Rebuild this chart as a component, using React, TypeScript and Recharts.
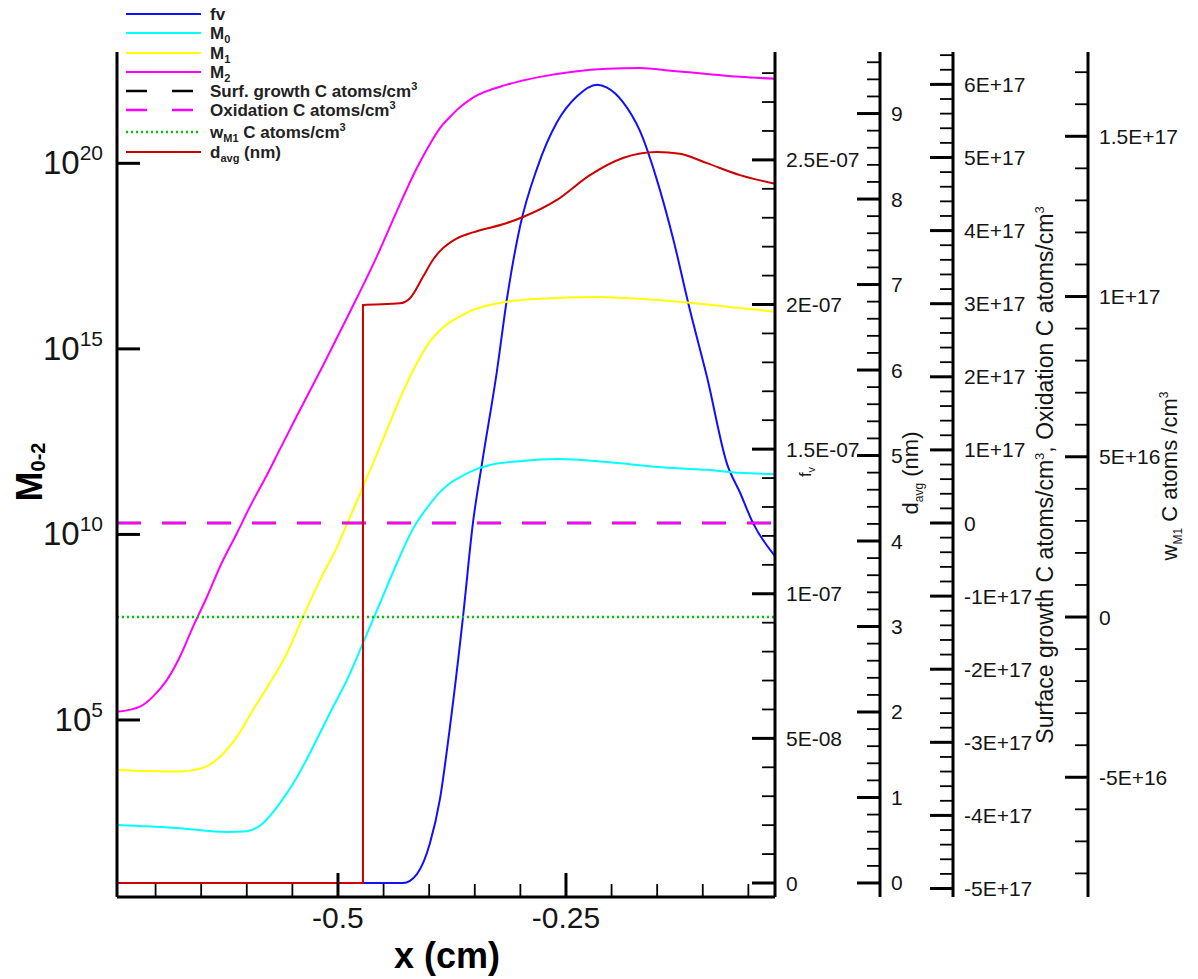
import React from 'react';
import { LineChart, Line, XAxis, YAxis, Legend } from 'recharts';

const FONT = "'Liberation Sans', Arial, Helvetica, sans-serif";
const TXT = '#151515';

// ---------------- data (x in cm) ----------------
const fvX = [-0.7423, -0.4726, -0.4287, -0.4134, -0.3991, -0.3882, -0.3772, -0.3629, -0.352, -0.3421, -0.3257, -0.3147, -0.3004, -0.2818, -0.2599, -0.2379, -0.216, -0.205, -0.1875, -0.1689, -0.1502, -0.1327, -0.114, -0.0954, -0.0735, -0.0592, -0.045, -0.0208];
const fvVal = [0, 0, 0, 3.1e-9, 1.38e-8, 2.9e-8, 5.4e-8, 9.2e-8, 1.245e-7, 1.45e-7, 1.77e-7, 2.02e-7, 2.27e-7, 2.47e-7, 2.63e-7, 2.72e-7, 2.76e-7, 2.75e-7, 2.7e-7, 2.6e-7, 2.43e-7, 2.23e-7, 1.98e-7, 1.75e-7, 1.45e-7, 1.35e-7, 1.245e-7, 1.13e-7];

// moments, given as log10 of the value
const m0X = [-0.7423, -0.6765, -0.6217, -0.5998, -0.5822, -0.5636, -0.545, -0.5274, -0.5088, -0.4901, -0.4726, -0.4539, -0.4353, -0.4178, -0.3991, -0.3882, -0.3772, -0.3695, -0.352, -0.3333, -0.2971, -0.2599, -0.205, -0.1502, -0.0954, -0.0592, -0.0208];
const m0Log10 = [2.17, 2.09, 1.98, 2.0, 2.22, 2.76, 3.46, 4.27, 5.19, 6.08, 7.07, 8.15, 9.23, 10.15, 10.82, 11.14, 11.38, 11.5, 11.72, 11.87, 11.98, 12.03, 11.95, 11.82, 11.74, 11.66, 11.63];

const m1X = [-0.7423, -0.6765, -0.648, -0.6294, -0.6107, -0.5932, -0.5746, -0.5559, -0.5384, -0.5197, -0.5011, -0.4868, -0.4726, -0.4572, -0.443, -0.4287, -0.4134, -0.3991, -0.3882, -0.3772, -0.3629, -0.352, -0.3333, -0.3147, -0.2785, -0.216, -0.1689, -0.114, -0.0592, -0.0208];
const m1Log10 = [3.65, 3.61, 3.71, 4.01, 4.55, 5.27, 6.0, 6.8, 7.78, 8.77, 9.66, 10.47, 11.28, 12.17, 13.02, 13.85, 14.62, 15.2, 15.5, 15.72, 15.92, 16.05, 16.18, 16.27, 16.35, 16.4, 16.35, 16.24, 16.1, 16.0];

const m2X = [-0.7423, -0.7171, -0.7029, -0.6875, -0.6732, -0.659, -0.6436, -0.6294, -0.6107, -0.5965, -0.5779, -0.5636, -0.545, -0.5164, -0.4868, -0.4572, -0.4353, -0.4134, -0.3991, -0.3882, -0.3772, -0.3695, -0.352, -0.3147, -0.2785, -0.2423, -0.205, -0.1689, -0.1327, -0.0954, -0.0592, -0.0208];
const m2Log10 = [5.22, 5.36, 5.63, 6.08, 6.71, 7.51, 8.32, 9.13, 10.04, 10.75, 11.6, 12.3, 13.2, 14.55, 16.0, 17.5, 18.72, 19.88, 20.52, 20.95, 21.25, 21.44, 21.77, 22.12, 22.33, 22.47, 22.55, 22.57, 22.49, 22.41, 22.33, 22.28];

const dX = [-0.7423, -0.4726, -0.4726, -0.432, -0.4211, -0.4068, -0.3958, -0.3882, -0.3695, -0.352, -0.3147, -0.2971, -0.2599, -0.2237, -0.1875, -0.1502, -0.125, -0.0954, -0.0592, -0.0208];
const dVal = [0, 0, 6.76, 6.78, 6.84, 7.09, 7.29, 7.39, 7.54, 7.61, 7.72, 7.79, 7.99, 8.28, 8.48, 8.55, 8.53, 8.42, 8.28, 8.18];

const rateX = [-0.7423, -0.0208];
const surfGrowthVal = [0, 0];
const oxidationVal = [0, 0];
const wM1Val = [0, 0];

// ---------------- ticks ----------------
const xDomain = [-0.7423, -0.0208];
const xMajorTicks = [-0.5, -0.25];
const xTickLabels = ['-0.5', '-0.25'];
const xMinorTicks = [-0.7, -0.65, -0.6, -0.55, -0.45, -0.4, -0.35, -0.3, -0.2, -0.15, -0.1, -0.05];

const mMajorTicks = [1e5, 1e10, 1e15, 1e20];
const mTickExponents = ['5', '10', '15', '20'];
const mDomainLog10 = [0.23, 23.0];

const fvTickLabels = ['0', '5E-08', '1E-07', '1.5E-07', '2E-07', '2.5E-07'];
const dTickLabels = ['0', '1', '2', '3', '4', '5', '6', '7', '8', '9'];
const sgTickLabels = ['-5E+17', '-4E+17', '-3E+17', '-2E+17', '-1E+17', '0', '1E+17', '2E+17', '3E+17', '4E+17', '5E+17', '6E+17'];
const wTickLabels = ['-5E+16', '0', '5E+16', '1E+17', '1.5E+17'];

// ---------------- helpers ----------------
const pts = (xs: number[], ys: number[]) => xs.map((x, i) => ({ x, y: ys[i] }));
const logPts = (xs: number[], ls: number[]) => xs.map((x, i) => ({ x, y: Math.pow(10, ls[i]) }));

type AxisCfg = { step: number; iMin: number; iMax: number; firstLabelI: number; labels: string[] };
const fvCfg: AxisCfg = { step: 1e-8, iMin: 0, iMax: 28, firstLabelI: 0, labels: fvTickLabels };
const dCfg: AxisCfg = { step: 0.2, iMin: 0, iMax: 48, firstLabelI: 0, labels: dTickLabels };
const sgCfg: AxisCfg = { step: 2e16, iMin: -25, iMax: 32, firstLabelI: -25, labels: sgTickLabels };
const wCfg: AxisCfg = { step: 1e16, iMin: -8, iMax: 17, firstLabelI: -5, labels: wTickLabels };

const cfgTicks = (c: AxisCfg) => {
  const out: number[] = [];
  for (let i = c.iMin; i <= c.iMax; i++) out.push(i * c.step);
  return out;
};

const makeRightTick = (c: AxisCfg) => (props: any) => {
  const { x, y, payload } = props;
  const i = Math.round(payload.value / c.step);
  const major = i % 5 === 0;
  const li = Math.round((i - c.firstLabelI) / 5);
  return (
    <g>
      <line x1={x - (major ? 23 : 13)} x2={x} y1={y} y2={y} stroke="#000" strokeWidth={major ? 3 : 1.8} />
      {major && c.labels[li] !== undefined && (
        <text x={x + 11} y={y + 7.5} fontSize={21} fontFamily={FONT} fill={TXT}>{c.labels[li]}</text>
      )}
    </g>
  );
};

const renderXTick = (props: any) => {
  const { x, y, payload } = props;
  const li = xMajorTicks.findIndex((m) => Math.abs(m - payload.value) < 1e-6);
  const major = li >= 0;
  return (
    <g>
      <line x1={x} x2={x} y1={y} y2={y - (major ? 24 : 13)} stroke="#000" strokeWidth={major ? 3 : 1.8} />
      {major && (
        <text x={x} y={y + 31} textAnchor="middle" fontSize={30} fontFamily={FONT} fill={TXT}>{xTickLabels[li]}</text>
      )}
    </g>
  );
};

const renderMTick = (props: any) => {
  const { x, y, payload } = props;
  const li = mMajorTicks.findIndex((m) => Math.abs(Math.log10(m) - Math.log10(payload.value)) < 1e-6);
  return (
    <g>
      <line x1={x} x2={x + 23} y1={y} y2={y} stroke="#000" strokeWidth={3} />
      <text x={x - 14} y={y + 11} textAnchor="end" fontSize={33} fontFamily={FONT} fill={TXT}>
        10<tspan dy={-14} fontSize={21}>{mTickExponents[li]}</tspan>
      </text>
    </g>
  );
};

type Part = [string, 'n' | 'sub' | 'sup'];
const Rich = ({ parts, size, small, subDy, supDy }: { parts: Part[]; size: number; small: number; subDy: number; supDy: number }) => {
  let cur = 0;
  return (
    <>
      {parts.map(([t, k], i) => {
        const target = k === 'sub' ? subDy : k === 'sup' ? -supDy : 0;
        const dy = target - cur;
        cur = target;
        return (
          <tspan key={i} dy={dy} fontSize={k === 'n' ? size : small} style={{ whiteSpace: 'pre' }}>{t}</tspan>
        );
      })}
    </>
  );
};

// ---------------- legend ----------------
const seriesStyles = [
  { color: '#1010ff', dash: undefined as string | undefined, width: 2 },
  { color: '#00ffff', dash: undefined, width: 2 },
  { color: '#ffff00', dash: undefined, width: 2 },
  { color: '#ff00ff', dash: undefined, width: 2 },
  { color: '#000000', dash: '21 25', width: 2.5 },
  { color: '#ff00ff', dash: '21 25', width: 2.5 },
  { color: '#00c800', dash: '2 3', width: 2.5 },
  { color: '#cc0000', dash: undefined, width: 2 },
];
const legendParts: Part[][] = [
  [['fv', 'n']],
  [['M', 'n'], ['0', 'sub']],
  [['M', 'n'], ['1', 'sub']],
  [['M', 'n'], ['2', 'sub']],
  [['Surf. growth C atoms/cm', 'n'], ['3', 'sup']],
  [['Oxidation C atoms/cm', 'n'], ['3', 'sup']],
  [['w', 'n'], ['M1', 'sub'], [' C atoms/cm', 'n'], ['3', 'sup']],
  [['d', 'n'], ['avg', 'sub'], [' (nm)', 'n']],
];
const legendRowY = [14, 33, 53, 72, 91, 110, 132, 152];

const renderLegend = () => (
  <svg width={480} height={175} style={{ display: 'block' }}>
    {legendParts.map((p, i) => {
      const s = seriesStyles[i];
      const y = legendRowY[i];
      return (
        <g key={i}>
          <line x1={126} x2={201} y1={y} y2={y} stroke={s.color} strokeWidth={s.width} strokeDasharray={s.dash} />
          <text x={210} y={y + 6} fontFamily={FONT} fontWeight="bold" fill="#222" fontSize={17}>
            <Rich parts={p} size={17} small={11} subDy={4} supDy={7} />
          </text>
        </g>
      );
    })}
  </svg>
);

// ---------------- titles ----------------
const Titles = () => (
  <svg width={1198} height={979} style={{ position: 'absolute', left: 0, top: 0, pointerEvents: 'none' }}>
    <text transform="translate(42,472) rotate(-90)" textAnchor="middle" fontFamily={FONT} fontWeight="bold" fill="#000">
      <Rich parts={[['M', 'n'], ['0-2', 'sub']]} size={36} small={20} subDy={3} supDy={0} />
    </text>
    <text x={447} y={968} textAnchor="middle" fontFamily={FONT} fontWeight="bold" fontSize={36} fill="#000">x (cm)</text>
    <text transform="translate(811,472) rotate(-90)" textAnchor="middle" fontFamily={FONT} fill={TXT}>
      <Rich parts={[['f', 'n'], ['v', 'sub']]} size={17} small={11} subDy={4} supDy={0} />
    </text>
    <text transform="translate(918,473) rotate(-90)" textAnchor="middle" fontFamily={FONT} fill={TXT}>
      <Rich parts={[['d', 'n'], ['avg', 'sub'], [' (nm)', 'n']]} size={22} small={12} subDy={5} supDy={0} />
    </text>
    <text transform="translate(1053,475) rotate(-90)" textAnchor="middle" fontFamily={FONT} fill={TXT}>
      <Rich parts={[['Surface growth C atoms/cm', 'n'], ['3', 'sup'], [', Oxidation C atoms/cm', 'n'], ['3', 'sup']]} size={23} small={13} subDy={0} supDy={9} />
    </text>
    <text transform="translate(1177,476) rotate(-90)" textAnchor="middle" fontFamily={FONT} fill={TXT}>
      <Rich parts={[['w', 'n'], ['M1', 'sub'], [' C atoms /cm', 'n'], ['3', 'sup']]} size={22} small={12} subDy={5} supDy={9} />
    </text>
  </svg>
);

const axisLine = { stroke: '#000', strokeWidth: 3 };

export default function App() {
  return (
    <div style={{ position: 'absolute', left: 0, top: 0, width: 1198, height: 979, background: '#fff' }}>
      <LineChart width={1198} height={979} margin={{ top: 52, right: 0, bottom: 0, left: 0 }}>
        <XAxis
          dataKey="x" type="number" domain={xDomain} allowDataOverflow
          ticks={[...xMinorTicks, ...xMajorTicks].sort((a, b) => a - b)} interval={0}
          tickSize={0} tickMargin={0} tickLine={false} height={82} axisLine={axisLine} tick={renderXTick}
        />
        <YAxis
          yAxisId="m" orientation="left" width={117} type="number" scale="log"
          domain={[Math.pow(10, mDomainLog10[0]), Math.pow(10, mDomainLog10[1])]} allowDataOverflow
          ticks={mMajorTicks} interval={0} tickSize={0} tickMargin={0} tickLine={false} axisLine={axisLine} tick={renderMTick}
        />
        <YAxis
          yAxisId="r1fv" orientation="right" width={105} type="number" domain={[-4.84e-9, 2.873e-7]} allowDataOverflow
          ticks={cfgTicks(fvCfg)} interval={0} tickSize={0} tickMargin={0} tickLine={false} axisLine={axisLine} tick={makeRightTick(fvCfg)}
        />
        <YAxis
          yAxisId="r2d" orientation="right" width={73} type="number" domain={[-0.164, 9.72]} allowDataOverflow
          ticks={cfgTicks(dCfg)} interval={0} tickSize={0} tickMargin={0} tickLine={false} axisLine={axisLine} tick={makeRightTick(dCfg)}
        />
        <YAxis
          yAxisId="r3sg" orientation="right" width={135} type="number" domain={[-5.116e17, 6.443e17]} allowDataOverflow
          ticks={cfgTicks(sgCfg)} interval={0} tickSize={0} tickMargin={0} tickLine={false} axisLine={axisLine} tick={makeRightTick(sgCfg)}
        />
        <YAxis
          yAxisId="r4w" orientation="right" width={110} type="number" domain={[-8.736e16, 1.763e17]} allowDataOverflow
          ticks={cfgTicks(wCfg)} interval={0} tickSize={0} tickMargin={0} tickLine={false} axisLine={axisLine} tick={makeRightTick(wCfg)}
        />
        <Line data={pts(fvX, fvVal)} dataKey="y" yAxisId="r1fv" type="monotone" stroke={seriesStyles[0].color} strokeWidth={2} dot={false} isAnimationActive={false} />
        <Line data={logPts(m0X, m0Log10)} dataKey="y" yAxisId="m" type="monotone" stroke={seriesStyles[1].color} strokeWidth={2} dot={false} isAnimationActive={false} />
        <Line data={logPts(m1X, m1Log10)} dataKey="y" yAxisId="m" type="monotone" stroke={seriesStyles[2].color} strokeWidth={2} dot={false} isAnimationActive={false} />
        <Line data={logPts(m2X, m2Log10)} dataKey="y" yAxisId="m" type="monotone" stroke={seriesStyles[3].color} strokeWidth={2} dot={false} isAnimationActive={false} />
        <Line data={pts(rateX, surfGrowthVal)} dataKey="y" yAxisId="r3sg" type="linear" stroke="#000" strokeWidth={2.5} strokeDasharray="24 21" dot={false} isAnimationActive={false} />
        <Line data={pts(rateX, oxidationVal)} dataKey="y" yAxisId="r3sg" type="linear" stroke="#ff00ff" strokeWidth={2.5} strokeDasharray="24 21" dot={false} isAnimationActive={false} />
        <Line data={pts(rateX, wM1Val)} dataKey="y" yAxisId="r4w" type="linear" stroke="#00c800" strokeWidth={2.5} strokeDasharray="2 3" dot={false} isAnimationActive={false} />
        <Line data={pts(dX, dVal)} dataKey="y" yAxisId="r2d" type="monotone" stroke={seriesStyles[7].color} strokeWidth={2} dot={false} isAnimationActive={false} />
        <Legend
          layout="vertical" align="center" verticalAlign="middle" content={renderLegend}
          wrapperStyle={{ position: 'absolute', left: 0, top: 0, width: 480, height: 175 }}
        />
      </LineChart>
      <Titles />
    </div>
  );
}
